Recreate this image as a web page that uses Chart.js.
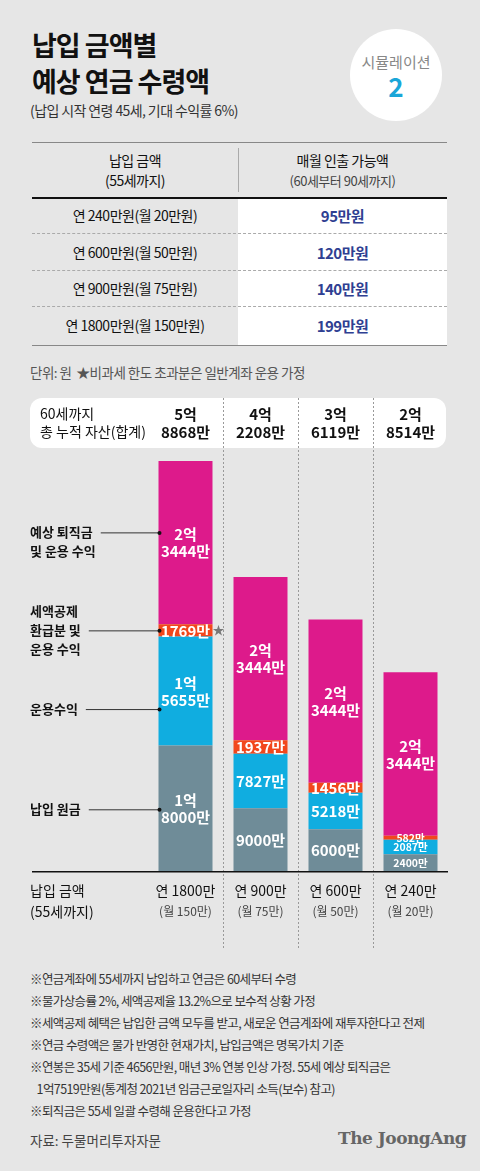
<!DOCTYPE html>
<html><head><meta charset="utf-8">
<script src="https://cdn.jsdelivr.net/npm/chart.js@4"></script>
<style>
body{margin:0;width:480px;height:1171px;background:#e6e6e6;font-family:"Noto Sans CJK KR","Noto Sans",sans-serif;position:relative;overflow:hidden;color:#111}
.a{position:absolute;white-space:nowrap}
.t{left:32px;font-size:27px;font-weight:700;letter-spacing:-1px;line-height:34px}
.circ{left:350px;top:29px;width:92px;height:92px;border-radius:50%;background:#fff;text-align:center}
.row{left:32px;width:415px;height:35px;font-size:14px;letter-spacing:-0.5px}
.row div{position:absolute;top:0;line-height:35px;text-align:center}
.note{left:30px;font-size:12.5px;color:#333;letter-spacing:-0.6px}
#wrap{position:absolute;left:0;top:395px;width:480px;height:555px}
</style></head><body>
<div class="a t" style="top:28px">납입 금액별</div>
<div class="a t" style="top:64px">예상 연금 수령액</div>
<div class="a" style="left:30px;top:100px;font-size:14px;color:#333;letter-spacing:-0.6px">(납입 시작 연령 45세, 기대 수익률 6%)</div>
<div class="a circ"><div style="margin-top:22px;font-size:15px;color:#888">시뮬레이션</div><div style="font-size:26px;font-weight:700;color:#1aa6d8;line-height:28px">2</div></div>

<div class="a" style="left:32px;top:142px;width:415px;border-top:1px solid #888"></div>
<div class="a" style="left:238px;top:148px;height:44px;border-left:1px solid #aaa"></div>
<div class="a" style="left:32px;top:150px;width:206px;text-align:center;font-size:14px;line-height:20px;letter-spacing:-0.5px">납입 금액<br>(55세까지)</div>
<div class="a" style="left:238px;top:150px;width:209px;text-align:center;font-size:14px;line-height:20px;letter-spacing:-0.5px">매월 인출 가능액<br><span style="font-size:13px;color:#444">(60세부터 90세까지)</span></div>
<div class="a" style="left:238px;top:198px;width:209px;height:147px;background:#fff"></div>
<div class="a" style="left:32px;top:197px;width:415px;border-top:2px solid #111"></div>
<div id="rows"></div>
<div class="a" style="left:32px;top:345px;width:415px;border-top:1px solid #888"></div>
<div class="a" style="left:30px;top:362px;font-size:13.5px;color:#555;letter-spacing:-0.5px">단위: 원 &nbsp;★비과세 한도 초과분은 일반계좌 운용 가정</div>

<div id="wrap"><canvas id="c"></canvas></div>

<div class="a note" style="top:968px;line-height:22px">※연금계좌에 55세까지 납입하고 연금은 60세부터 수령<br>※물가상승률 2%, 세액공제율 13.2%으로 보수적 상황 가정<br>※세액공제 혜택은 납입한 금액 모두를 받고, 새로운 연금계좌에 재투자한다고 전제<br>※연금 수령액은 물가 반영한 현재가치, 납입금액은 명목가치 기준<br>※연봉은 35세 기준 4656만원, 매년 3% 연봉 인상 가정. 55세 예상 퇴직금은<br>&nbsp;&nbsp;&nbsp;1억7519만원(통계청 2021년 임금근로일자리 소득(보수) 참고)<br>※퇴직금은 55세 일괄 수령해 운용한다고 가정</div>
<div class="a" style="left:30px;top:1130px;font-size:13.5px;color:#444">자료: 두물머리투자자문</div>
<div class="a" style="left:338px;top:1128px;font-size:17px;font-weight:700;color:#666;font-family:'DejaVu Serif','Liberation Serif',serif;letter-spacing:-0.5px">The JoongAng</div>
<script>
const tableLeft=['연 240만원(월 20만원)','연 600만원(월 50만원)','연 900만원(월 75만원)','연 1800만원(월 150만원)'];
const tableRight=['95만원','120만원','140만원','199만원'];
const categories=['연 1800만','연 900만','연 600만','연 240만'];
const subLabels=['(월 150만)','(월 75만)','(월 50만)','(월 20만)'];
const principal=[18000,9000,6000,2400];
const returns=[15655,7827,5218,2087];
const taxRefund=[1769,1937,1456,582];
const retirement=[23444,23444,23444,23444];
const totals=['5억|8868만','4억|2208만','3억|6119만','2억|8514만'];
const segLabels={0:['1억|8000만','9000만','6000만','2400만'],1:['1억|5655만','7827만','5218만','2087만'],2:['1769만','1937만','1456만','582만'],3:['2억|3444만','2억|3444만','2억|3444만','2억|3444만']};
const leftLabels=[['예상 퇴직금','및 운용 수익'],['세액공제','환급분 및','운용 수익'],['운용수익'],['납입 원금']];

let h='';
tableLeft.forEach((l,i)=>{const top=198+i*36.5;
h+=`<div class="a row" style="top:${top}px"><div style="left:0;width:206px">${l}</div><div style="left:206px;width:209px;color:#2f3f92;font-weight:700;font-size:15px">${tableRight[i]}</div></div>`;
if(i<3)h+=`<div class="a" style="left:32px;top:${top+35}px;width:415px;border-top:1px dashed #aaa"></div>`;});
document.getElementById('rows').innerHTML=h;

const FONT='"Noto Sans CJK KR","Noto Sans",sans-serif';
const deco={id:'deco',
beforeDatasetsDraw(ch){const c=ch.ctx,xs=ch.scales.x;
 c.save();
 c.fillStyle='#fff';c.beginPath();c.roundRect(30,3,416,50,12);c.fill();
 c.strokeStyle='#999';c.lineWidth=1;c.setLineDash([2,2]);
 for(let i=0;i<3;i++){const x=(xs.getPixelForValue(i)+xs.getPixelForValue(i+1))/2;c.beginPath();c.moveTo(Math.round(x)+.5,3);c.lineTo(Math.round(x)+.5,555);c.stroke();}
 c.setLineDash([]);
 c.restore();},
afterDraw(ch){const c=ch.ctx,xs=ch.scales.x,ca=ch.chartArea;
 c.save();c.textAlign='center';c.textBaseline='middle';
 c.fillStyle='#111';c.font='14px '+FONT;c.textAlign='left';
 c.fillText('60세까지',40,19);c.fillText('총 누적 자산(합계)',40,37);
 c.textAlign='center';c.font='bold 15px '+FONT;
 totals.forEach((t,i)=>{const [a,b]=t.split('|');const x=xs.getPixelForValue(i);c.fillText(a,x,19);c.fillText(b,x,37);});
 c.fillStyle='#111';c.fillRect(32,ca.bottom,416,1.5);
 categories.forEach((t,i)=>{const x=xs.getPixelForValue(i);c.fillStyle='#111';c.font='14px '+FONT;c.fillText(t,x,ca.bottom+20);c.fillStyle='#444';c.font='12px '+FONT;c.fillText(subLabels[i],x,ca.bottom+40);});
 c.textAlign='left';c.fillStyle='#111';c.font='14px '+FONT;c.fillText('납입 금액',30,ca.bottom+20);c.fillText('(55세까지)',30,ca.bottom+41);
 c.textAlign='center';
 ch.data.datasets.forEach((ds,di)=>{const m=ch.getDatasetMeta(di);m.data.forEach((b,i)=>{const parts=segLabels[di][i].split('|');const small=i===3&&di<3;
  c.fillStyle='#fff';c.font=(small?'bold 10.5px ':'bold 15px ')+FONT;const cy=(b.y+b.base)/2;
  if(parts.length===2){c.fillText(parts[0],b.x,cy-8);c.fillText(parts[1],b.x,cy+9);}else c.fillText(parts[0],b.x,cy+0.5);});});
 const m2=ch.getDatasetMeta(2).data[0];c.fillStyle='#777';c.font='12px '+FONT;c.fillText('★',m2.x+33,(m2.y+m2.base)/2);
 const order=[3,2,1,0];
 leftLabels.forEach((lines,k)=>{const di=order[k];const b=ch.getDatasetMeta(di).data[0];let cy=(b.y+b.base)/2;
  if(di===3)cy=b.y+(b.base-b.y)*0.45-2;if(di===1)cy+=18;if(di===0)cy+=1;
  c.textAlign='left';c.fillStyle='#111';c.font='bold 13px '+FONT;
  const lh=19;const start=cy-(lines.length===3?lh:0);
  lines.forEach((l,j)=>c.fillText(l,30,start+j*lh));
  const w=c.measureText(lines[lines.length===3?1:0]).width;
  c.strokeStyle='#333';c.lineWidth=1;c.beginPath();c.moveTo(30+w+8,cy+.5);c.lineTo(b.x-27,cy+.5);c.stroke();
  c.fillStyle='#111';c.beginPath();c.arc(b.x-26,cy+.5,2,0,7);c.fill();});
 c.restore();}};

new Chart(document.getElementById('c'),{type:'bar',
data:{labels:categories,datasets:[
 {label:'납입 원금',data:principal,backgroundColor:'#6f8c98'},
 {label:'운용수익',data:returns,backgroundColor:'#10ade0'},
 {label:'세액공제',data:taxRefund,backgroundColor:'#f2471c'},
 {label:'퇴직금',data:retirement,backgroundColor:'#dd1a8b'}]},
options:{responsive:true,maintainAspectRatio:false,animation:false,
 datasets:{bar:{barPercentage:0.72,categoryPercentage:1}},
 layout:{padding:{left:148,right:32,top:58,bottom:79}},
 plugins:{legend:{display:false},tooltip:{enabled:false}},
 scales:{x:{stacked:true,display:false},y:{stacked:true,display:false,min:0,max:60000}}},
plugins:[deco]});
</script>
</body></html>
